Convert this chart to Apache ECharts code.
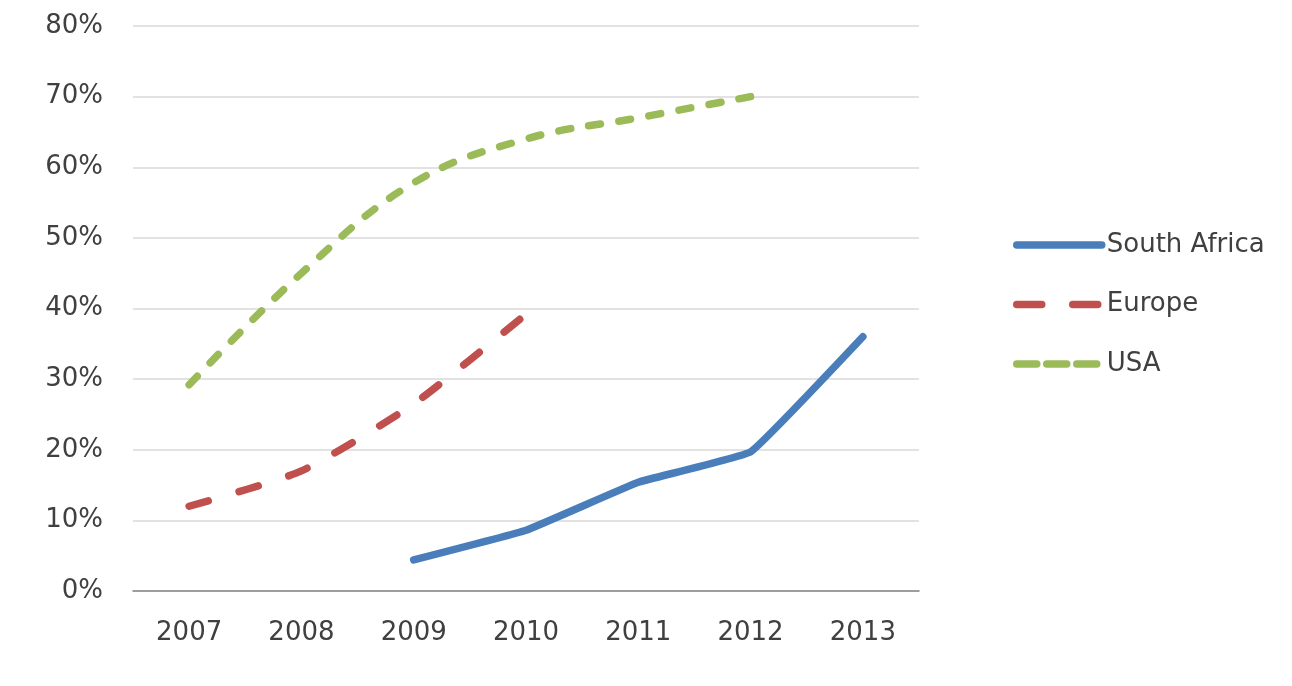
<!DOCTYPE html>
<html>
<head>
<meta charset="utf-8">
<script src="https://cdn.jsdelivr.net/npm/echarts@6/dist/echarts.min.js"></script>
<style>
html,body{margin:0;padding:0;background:#fff;}
#chart{width:1292px;height:686px;}
</style>
</head>
<body>
<div id="chart"></div>
<script>
const categories = ['2007','2008','2009','2010','2011','2012','2013'];
const southAfrica = [null, null, 4.4, 8.6, 15.4, 19.7, 36.0];
const europe = [12.0, 17.0, 26.5, 39.2, null, null, null];
const usa = [29.2, 45.0, 57.8, 64.0, 67.0, 70.0, null];
const yTicks = {min: 0, max: 80, interval: 10};

const FONT = 'DejaVu Sans';
const TXT = '#404040';
const LW = 7.5;
const chart = echarts.init(document.getElementById('chart'));
chart.setOption({
  animation: false,
  backgroundColor: '#ffffff',
  grid: {left: 133, right: 373, top: 26, bottom: 95, containLabel: false},
  legend: {
    orient: 'vertical',
    left: 1008,
    top: 227,
    itemWidth: 85,
    itemHeight: 14,
    itemGap: 33.5,
    itemStyle: {opacity: 0, color: 'rgba(0,0,0,0)', borderWidth: 0},
    lineStyle: {width: LW, cap: 'round'},
    textStyle: {fontFamily: FONT, fontSize: 26, color: TXT, padding: [0,0,0,0]},
    data: [
      {name: 'South Africa'},
      {name: 'Europe', lineStyle: {width: LW, cap: 'round', type: [25, 31]}},
      {name: 'USA', lineStyle: {width: LW, cap: 'round', type: [20, 10]}}
    ]
  },
  xAxis: {
    type: 'category',
    data: categories,
    boundaryGap: true,
    axisLine: {lineStyle: {color: '#868686', width: 1.5}},
    axisTick: {show: false},
    axisLabel: {fontFamily: FONT, fontSize: 26, color: TXT, margin: 29}
  },
  yAxis: {
    type: 'value',
    min: yTicks.min, max: yTicks.max, interval: yTicks.interval,
    axisLine: {show: false},
    axisTick: {show: false},
    splitLine: {lineStyle: {color: '#d9d9d9', width: 1.5}},
    axisLabel: {fontFamily: FONT, fontSize: 26, color: TXT, margin: 30, formatter: '{value}%'}
  },
  series: [
    {
      name: 'South Africa', type: 'line', data: southAfrica, symbol: 'none', smooth: 0.08,
      lineStyle: {color: '#4a7ebb', width: LW, cap: 'round', join: 'round'},
      itemStyle: {color: '#4a7ebb'}
    },
    {
      name: 'Europe', type: 'line', data: europe, symbol: 'none', smooth: 0.2,
      lineStyle: {color: '#c0504d', width: LW, type: [20, 32], cap: 'round', join: 'round'},
      itemStyle: {color: '#c0504d'}
    },
    {
      name: 'USA', type: 'line', data: usa, symbol: 'none', smooth: 0.4,
      lineStyle: {color: '#9bbb59', width: LW, type: [12, 18.5], cap: 'round', join: 'round'},
      itemStyle: {color: '#9bbb59'}
    }
  ]
});
</script>
</body>
</html>
